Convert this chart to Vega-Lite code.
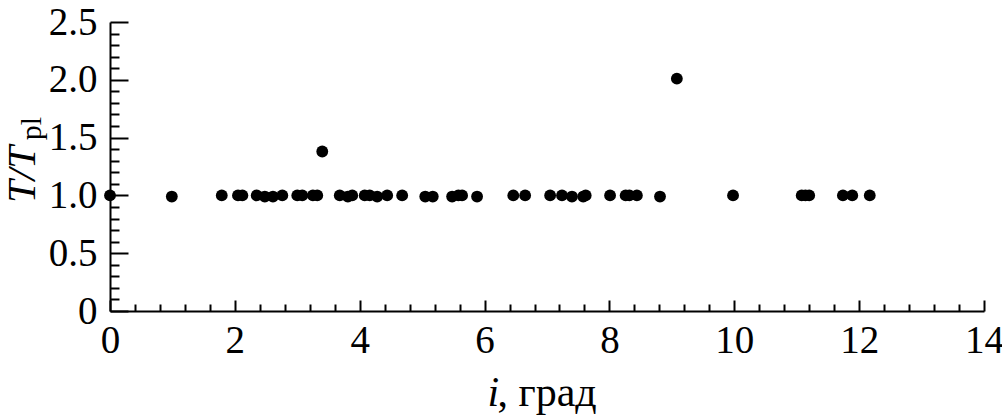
{
  "$schema": "https://vega.github.io/schema/vega-lite/v6.json",
  "width": 874,
  "height": 289,
  "autosize": {"type": "none"},
  "padding": {"left": 110, "top": 22, "right": 18, "bottom": 106},
  "background": "white",
  "data": {
    "values": [
      {"i": 0.00, "r": 1.00},
      {"i": 0.99, "r": 0.99},
      {"i": 1.79, "r": 1.00},
      {"i": 2.05, "r": 1.00},
      {"i": 2.12, "r": 1.00},
      {"i": 2.35, "r": 1.00},
      {"i": 2.48, "r": 0.99},
      {"i": 2.61, "r": 0.99},
      {"i": 2.76, "r": 1.00},
      {"i": 3.00, "r": 1.00},
      {"i": 3.08, "r": 1.00},
      {"i": 3.25, "r": 1.00},
      {"i": 3.32, "r": 1.00},
      {"i": 3.40, "r": 1.38},
      {"i": 3.68, "r": 1.00},
      {"i": 3.81, "r": 0.99},
      {"i": 3.88, "r": 1.00},
      {"i": 4.08, "r": 1.00},
      {"i": 4.16, "r": 1.00},
      {"i": 4.28, "r": 0.99},
      {"i": 4.44, "r": 1.00},
      {"i": 4.68, "r": 1.00},
      {"i": 5.05, "r": 0.99},
      {"i": 5.17, "r": 0.99},
      {"i": 5.48, "r": 0.99},
      {"i": 5.58, "r": 1.00},
      {"i": 5.64, "r": 1.00},
      {"i": 5.88, "r": 0.99},
      {"i": 6.46, "r": 1.00},
      {"i": 6.65, "r": 1.00},
      {"i": 7.05, "r": 1.00},
      {"i": 7.24, "r": 1.00},
      {"i": 7.40, "r": 0.99},
      {"i": 7.58, "r": 0.99},
      {"i": 7.62, "r": 1.00},
      {"i": 8.01, "r": 1.00},
      {"i": 8.26, "r": 1.00},
      {"i": 8.32, "r": 1.00},
      {"i": 8.44, "r": 1.00},
      {"i": 8.81, "r": 0.99},
      {"i": 9.08, "r": 2.01},
      {"i": 9.98, "r": 1.00},
      {"i": 11.08, "r": 1.00},
      {"i": 11.14, "r": 1.00},
      {"i": 11.20, "r": 1.00},
      {"i": 11.74, "r": 1.00},
      {"i": 11.89, "r": 1.00},
      {"i": 12.17, "r": 1.00}
    ]
  },
  "layer": [
    {
      "mark": {"type": "point", "filled": true, "size": 140, "color": "black", "opacity": 1, "strokeWidth": 0},
      "encoding": {
        "x": {
          "field": "i", "type": "quantitative",
          "scale": {"domain": [0, 14], "nice": false, "zero": false},
          "axis": {
            "orient": "bottom",
            "values": [0, 0.4, 0.8, 1.2, 1.6, 2, 2.4, 2.8, 3.2, 3.6, 4, 4.4, 4.8, 5.2, 5.6, 6, 6.4, 6.8, 7.2, 7.6, 8, 8.4, 8.8, 9.2, 9.6, 10, 10.4, 10.8, 11.2, 11.6, 12, 12.4, 12.8, 13.2, 13.6, 14],
            "labelExpr": "datum.value % 2 === 0 ? format(datum.value, 'd') : ''",
            "grid": false,
            "domainColor": "black", "domainWidth": 2,
            "tickColor": "black", "tickWidth": 2,
            "tickSize": {"condition": {"test": "datum.value % 2 === 0", "value": -11}, "value": -7},
            "labelFont": "Liberation Serif", "labelFontSize": 39, "labelColor": "black",
            "labelPadding": 21, "labelFlush": false, "labelOverlap": false,
            "title": "i",
            "titleFont": "Liberation Serif", "titleFontSize": 42, "titleFontStyle": "italic", "titleFontWeight": "normal",
            "titleColor": "black", "titleAlign": "left", "titleBaseline": "alphabetic",
            "titleX": 377, "titleY": 94
          }
        },
        "y": {
          "field": "r", "type": "quantitative",
          "scale": {"domain": [0, 2.5], "nice": false, "zero": false},
          "axis": {
            "orient": "left",
            "values": [0, 0.1, 0.2, 0.3, 0.4, 0.5, 0.6, 0.7, 0.8, 0.9, 1, 1.1, 1.2, 1.3, 1.4, 1.5, 1.6, 1.7, 1.8, 1.9, 2, 2.1, 2.2, 2.3, 2.4, 2.5],
            "labelExpr": "datum.value === 0 ? '0' : (datum.value * 10) % 5 === 0 ? format(datum.value, '.1f') : ''",
            "grid": false,
            "domainColor": "black", "domainWidth": 2,
            "tickColor": "black", "tickWidth": 2,
            "tickSize": {"condition": {"test": "(datum.value * 10) % 5 === 0", "value": -18}, "value": -9},
            "labelFont": "Liberation Serif", "labelFontSize": 39, "labelColor": "black",
            "labelPadding": 31, "labelFlush": false, "labelOverlap": false,
            "title": "T/T",
            "titleFont": "Liberation Serif", "titleFontSize": 41, "titleFontStyle": "italic", "titleFontWeight": "normal",
            "titleColor": "black", "titleAlign": "center", "titleBaseline": "alphabetic", "titleAngle": 270,
            "titleX": -76, "titleY": 152
          }
        }
      }
    },
    {
      "mark": {"type": "point", "opacity": 0},
      "encoding": {
        "x": {
          "field": "i", "type": "quantitative",
          "scale": {"domain": [0, 14], "nice": false, "zero": false},
          "axis": {
            "orient": "bottom", "domain": false, "ticks": false, "labels": false, "grid": false,
            "title": ", град",
            "titleFont": "Liberation Serif", "titleFontSize": 42, "titleFontStyle": "normal", "titleFontWeight": "normal",
            "titleColor": "black", "titleAlign": "left", "titleBaseline": "alphabetic",
            "titleX": 387, "titleY": 94
          }
        },
        "y": {
          "field": "r", "type": "quantitative",
          "scale": {"domain": [0, 2.5], "nice": false, "zero": false},
          "axis": {
            "orient": "left", "domain": false, "ticks": false, "labels": false, "grid": false,
            "title": "pl",
            "titleFont": "Liberation Serif", "titleFontSize": 30, "titleFontStyle": "normal", "titleFontWeight": "normal",
            "titleColor": "black", "titleAlign": "center", "titleBaseline": "alphabetic", "titleAngle": 270,
            "titleX": -70, "titleY": 106
          }
        }
      }
    }
  ],
  "resolve": {"axis": {"x": "independent", "y": "independent"}},
  "config": {"view": {"stroke": null}}
}
